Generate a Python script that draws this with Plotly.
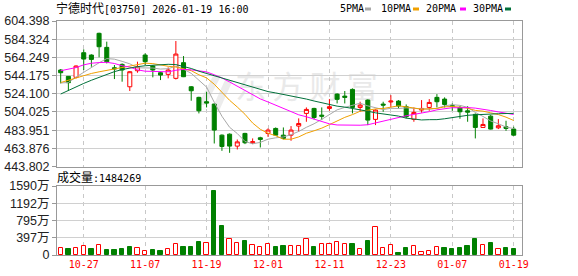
import plotly.graph_objects as go
import pandas as pd

# ---------------- data ----------------
dates = ["10-22", "10-23", "10-24", "10-27", "10-28", "10-30", "10-31",
         "11-03", "11-04", "11-05", "11-06", "11-07", "11-10", "11-11",
         "11-12", "11-13", "11-14", "11-17", "11-18", "11-19", "11-20",
         "11-21", "11-24", "11-25", "11-26", "11-27", "11-28", "12-01",
         "12-02", "12-03", "12-04", "12-05", "12-08", "12-09", "12-10",
         "12-11", "12-12", "12-15", "12-16", "12-17", "12-18", "12-19",
         "12-22", "12-23", "12-24", "12-29", "12-30", "12-31", "01-02",
         "01-05", "01-06", "01-07", "01-08", "01-09", "01-12", "01-13",
         "01-14", "01-15", "01-16", "01-19"]

open_ = [550.3, 543.3, 542.2, 569.4, 566.8, 590.8, 575.3, 552.8, 556.5, 531.8,
         549.5, 566.8, 554.7, 547.3, 545.5, 541.1, 558.4, 531.8, 520.1, 515.3,
         512.7, 478.4, 479.5, 466.3, 480.3, 470.0, 475.5, 480.3, 485.8, 478.4,
         478.4, 488.4, 502.4, 507.9, 500.5, 507.9, 523.7, 521.5, 528.9, 509.0,
         517.1, 495.8, 512.7, 515.0, 516.0, 509.8, 495.8, 506.1, 509.0, 520.1,
         518.2, 511.2, 509.0, 505.3, 501.3, 486.9, 499.4, 486.5, 487.7, 485.1]
high = [551.4, 543.6, 555.4, 573.1, 567.6, 591.5, 581.6, 555.8, 557.6, 549.1,
        559.5, 568.7, 555.8, 548.4, 553.2, 582.3, 565.7, 532.6, 520.8, 526.3,
        513.4, 479.2, 480.3, 473.6, 481.0, 474.8, 476.6, 485.8, 486.9, 486.9,
        488.4, 496.9, 509.0, 508.6, 509.0, 518.2, 524.5, 527.1, 530.0, 515.3,
        517.9, 506.8, 515.3, 522.6, 517.1, 512.3, 509.0, 517.1, 518.2, 523.7,
        520.1, 513.4, 510.5, 510.5, 502.4, 496.9, 500.5, 496.1, 494.3, 487.7]
low = [535.5, 527.4, 541.1, 550.3, 553.9, 564.3, 557.6, 540.3, 537.4, 527.1,
       547.3, 555.8, 542.2, 539.2, 541.1, 539.9, 542.5, 516.4, 502.4, 509.0,
       469.2, 461.1, 458.9, 462.6, 468.5, 468.5, 464.8, 476.6, 478.0, 473.7,
       472.2, 482.1, 493.2, 495.8, 495.0, 505.3, 513.4, 513.4, 502.4, 504.2,
       489.5, 489.5, 504.2, 509.0, 507.9, 496.9, 493.2, 503.1, 505.3, 509.0,
       509.0, 505.3, 496.5, 493.2, 474.8, 486.9, 484.7, 485.1, 483.2, 477.7]
close = [547.3, 536.3, 554.7, 562.4, 562.0, 576.0, 559.5, 551.5, 550.3, 548.4,
         553.9, 559.5, 550.3, 544.7, 550.3, 567.9, 542.9, 527.4, 505.3, 513.8,
         484.0, 465.9, 466.3, 471.0, 470.0, 471.1, 473.7, 484.0, 478.4, 474.8,
         484.0, 491.3, 506.8, 497.9, 499.4, 509.8, 517.9, 520.1, 509.0, 511.6,
         495.0, 506.1, 511.6, 516.0, 510.5, 498.7, 503.5, 507.9, 514.5, 515.3,
         512.3, 510.1, 504.2, 503.8, 486.9, 490.2, 485.1, 488.8, 485.8, 478.4]

# volume in 万 shares
volume_wan = [153, 130, 153, 199, 130, 222, 107, 107, 130, 176,
              153, 84, 107, 92, 130, 245, 176, 176, 298, 275,
              1468, 665, 375, 268, 313, 222, 176, 245, 176, 199,
              214, 199, 375, 184, 252, 252, 298, 252, 252, 130,
              321, 634, 153, 222, 46, 160, 199, 69, 92, 176,
              160, 130, 160, 206, 367, 222, 275, 130, 160, 148.4269]

# moving-average values before a full window exists
ma5_lead = [536.0, 536.5, 542.5, 548.0]
ma10_lead = [536.5, 539.0, 542.0, 544.5, 546.5, 548.3, 549.8, 551.5, 553.2]
ma20_lead = [549.5, 551.0, 553.0, 556.0, 557.8, 558.5, 558.8, 557.5, 555.0,
             553.5, 550.5, 549.0, 548.6, 548.3, 548.3, 550.0, 551.0, 550.5,
             549.5]
ma30_lead = [523.8, 528.0, 531.9, 535.5, 539.0, 542.3, 545.5, 548.5, 550.8,
             552.6, 554.0, 555.0, 555.8, 556.4, 556.6, 556.3, 554.5, 552.0,
             549.0, 546.5, 544.0, 541.0, 538.5, 536.0, 533.5, 531.0, 528.5,
             526.5, 525.0]

price_min, price_max = 443.802, 604.398
price_ticktext = ["443.802", "463.876", "483.951", "504.025", "524.100",
                  "544.175", "564.249", "584.324", "604.398"]
vol_max = 1590
vol_ticktext = ["0", "397万", "795万", "1192万", "1590万"]
tick_dates = ["10-27", "11-07", "11-19", "12-01", "12-11", "12-23", "01-07", "01-19"]

title_text = "宁德时代[03750] 2026-01-19 16:00"
ma_names = ["5PMA", "10PMA", "20PMA", "30PMA"]
ma_colors = ["#a8a8a8", "#f0a000", "#ff00ff", "#00703a"]

# ---------------- derived ----------------
n = len(dates)
xs = list(range(n))
cs = pd.Series(close)


def moving(w, lead):
    r = cs.rolling(w).mean().tolist()
    return list(lead) + r[len(lead):]


mas = [moving(5, ma5_lead), moving(10, ma10_lead),
       moving(20, ma20_lead), moving(30, ma30_lead)]

RED = "#ff0000"
GREEN = "#008000"
# volume colour follows change against previous close (first bar shown red)
vol_up = [True] + [close[i] >= close[i - 1] for i in range(1, n)]
vol_fill = ["#ffffff" if u else GREEN for u in vol_up]
vol_line = [RED if u else GREEN for u in vol_up]

tickvals = [dates.index(d) for d in tick_dates]
price_tickvals = [price_min + k * (price_max - price_min) / 8 for k in range(9)]
vol_tickvals = [k * vol_max / 4 for k in range(5)]

# ---------------- geometry helpers (pixels -> fractions) ----------------
W, H = 578, 276
L, R, T, B = 57, 522, 21, 255
main_top, main_bot = 21, 166.5
vol_top = 186


def pxf(x):
    return (x - L) / (R - L)


def pyf(y):
    return (B - y) / (B - T)


fig = go.Figure()

fig.add_trace(go.Candlestick(
    x=xs, open=open_, high=high, low=low, close=close,
    xaxis="x", yaxis="y",
    increasing=dict(line=dict(color=RED, width=1), fillcolor="#ffffff"),
    decreasing=dict(line=dict(color=GREEN, width=1), fillcolor=GREEN),
    whiskerwidth=0, hoverinfo="skip", showlegend=False,
))

for name, col, vals in zip(ma_names, ma_colors, mas):
    fig.add_trace(go.Scatter(x=xs, y=vals, mode="lines", name=name,
                             line=dict(color=col, width=1),
                             xaxis="x", yaxis="y", hoverinfo="skip",
                             showlegend=False))

fig.add_trace(go.Bar(
    x=xs, y=volume_wan, xaxis="x2", yaxis="y2", width=0.56,
    marker=dict(color=vol_fill, line=dict(color=vol_line, width=1)),
    hoverinfo="skip", showlegend=False,
))

grid_c = "#d0d0d0"
border_c = "#999999"
yfont = dict(family="Liberation Sans, Noto Sans CJK SC", size=12.5, color="#222222")
mono = "DejaVu Sans Mono, Noto Sans CJK SC"

x_range = [-0.48, 60.08]
common_x = dict(range=x_range, tickvals=tickvals, ticktext=tick_dates,
                showgrid=True, gridcolor="#c8c8c8", griddash="4px,4px",
                gridwidth=1, showline=True, linecolor=border_c, linewidth=1,
                mirror=True, zeroline=False, ticks="", fixedrange=True,
                automargin=False)

shapes = []
# watermark logo + text (drawn beneath the data)
for pts in ([(198, 105), (206, 105), (221, 76), (213, 76)],
            [(211, 111), (219, 111), (233, 80), (225, 80)]):
    path = "M " + " L ".join(f"{pxf(a):.4f},{pyf(b):.4f}" for a, b in pts) + " Z"
    shapes.append(dict(type="path", path=path, xref="paper", yref="paper",
                       fillcolor="#ececec", line=dict(width=0), layer="below"))
shapes.append(dict(type="rect", xref="paper", yref="paper",
                   x0=pxf(235), x1=pxf(378), y0=pyf(104), y1=pyf(74),
                   line=dict(width=0), fillcolor="rgba(0,0,0,0)", layer="below",
                   label=dict(text="东\u2009方\u2009财\u2009富",
                              textposition="middle center",
                              font=dict(family="Noto Sans CJK SC", size=31,
                                        color="#e9e9e9"))))

annotations = [
    dict(text=f"<span style='font-size:12px'>{title_text[:4]}</span>{title_text[4:]}",
         x=pxf(55), y=pyf(8.5), xref="paper", yref="paper", xanchor="left",
         yanchor="middle", showarrow=False, borderpad=0,
         font=dict(family=mono, size=10, color="#000000")),
    dict(text=f"<span style='font-size:12px'>成交量</span>:{round(volume_wan[-1] * 10000)}",
         x=pxf(56), y=pyf(177), xref="paper", yref="paper", xanchor="left",
         yanchor="middle", showarrow=False, borderpad=0,
         font=dict(family=mono, size=10, color="#000000")),
]
legend_text_x = [339, 380, 425, 471.5]
legend_mark_x = [365, 413, 460, 505]
for name, col, tx, mx in zip(ma_names, ma_colors, legend_text_x, legend_mark_x):
    annotations.append(dict(text=name, x=pxf(tx), y=pyf(9), xref="paper",
                            yref="paper", xanchor="left", yanchor="middle",
                            showarrow=False, borderpad=0,
                            font=dict(family=mono, size=10, color="#000000")))
    shapes.append(dict(type="rect", xref="paper", yref="paper",
                       x0=pxf(mx), x1=pxf(mx + 6), y0=pyf(10.5), y1=pyf(7.5),
                       fillcolor=col, line=dict(width=0), layer="above"))

common_y = dict(showgrid=True, gridcolor=grid_c, gridwidth=1, zeroline=False,
                showline=True, linecolor=border_c, linewidth=1, mirror=True,
                ticks="outside", ticklen=4, tickcolor=border_c, tickfont=yfont,
                fixedrange=True, automargin=False)

fig.update_layout(
    width=W, height=H,
    margin=dict(l=L, r=W - R, t=T, b=H - B, pad=0, autoexpand=False),
    paper_bgcolor="#ffffff", plot_bgcolor="rgba(0,0,0,0)",
    showlegend=False, boxgap=0.25, boxgroupgap=0.3, bargap=0,
    xaxis=dict(anchor="y", showticklabels=False, rangeslider=dict(visible=False),
               **common_x),
    yaxis=dict(domain=[pyf(main_bot), 1], range=[price_min, price_max],
               tickvals=price_tickvals, ticktext=price_ticktext, **common_y),
    xaxis2=dict(anchor="y2", matches="x", showticklabels=True,
                tickfont=dict(family=mono, size=10, color=RED), **common_x),
    yaxis2=dict(domain=[0, pyf(vol_top)], range=[0, vol_max],
                tickvals=vol_tickvals, ticktext=vol_ticktext, **common_y),
    shapes=shapes, annotations=annotations,
)

fig.write_html("out.html")
